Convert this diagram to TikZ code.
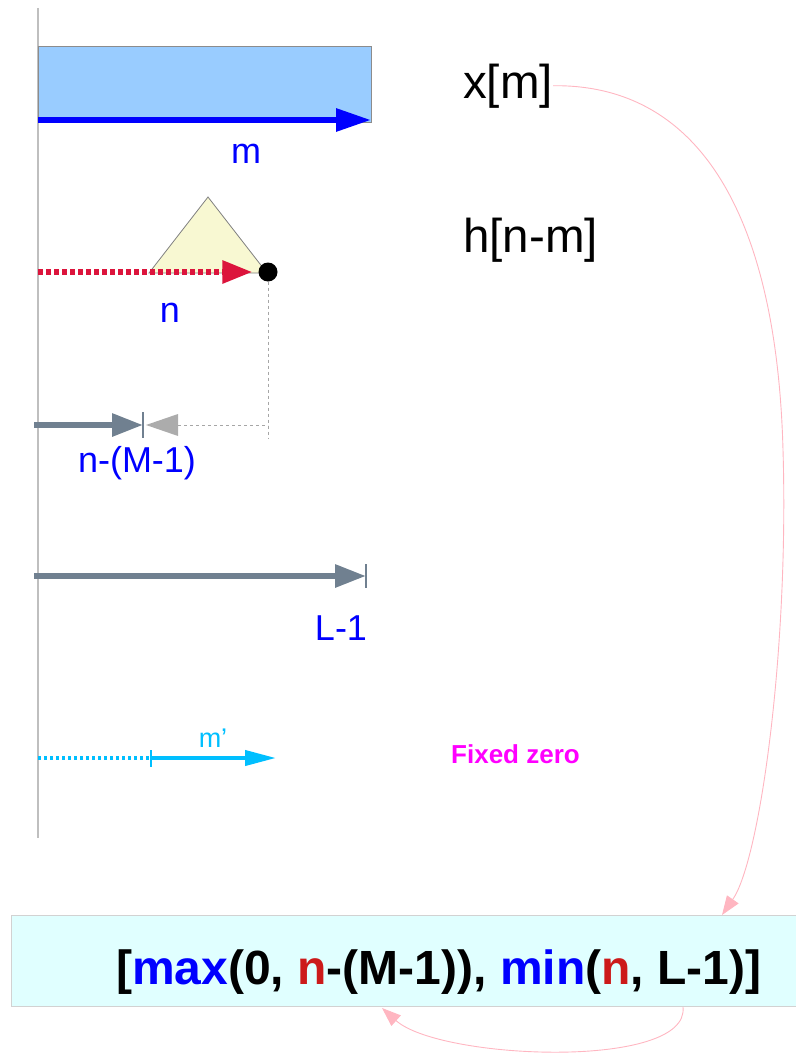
\documentclass[tikz,border=0pt]{standalone}
\usepackage{fontspec}
\setmainfont{Liberation Sans}
\usetikzlibrary{arrows.meta}
\definecolor{rectblue}{HTML}{99CCFF}
\definecolor{triyel}{HTML}{F8F8D2}
\definecolor{crim}{HTML}{DC143C}
\definecolor{slate}{HTML}{708090}
\definecolor{skyc}{HTML}{00BFFF}
\definecolor{pinkc}{HTML}{FFB6C1}
\definecolor{boxcyan}{HTML}{E0FFFF}
\definecolor{fred}{HTML}{CC1A1A}
\definecolor{magc}{HTML}{FF00FF}
\begin{document}
\begin{tikzpicture}[x=1pt,y=-1pt,
  lbl/.style={text=blue,font=\fontsize{36}{40}\selectfont,inner sep=0pt,anchor=base},
  bigtxt/.style={font=\fontsize{47.5}{54}\selectfont,inner sep=0pt,anchor=base west},
  slatearrow/.style={draw=slate,line width=6pt,-{Triangle[length=31pt,width=22pt]}},
  tickbar/.style={draw=slate,line width=2.5pt},
  pinkcurve/.style={draw=pinkc,line width=0.9pt,-{Triangle[length=19pt,width=14pt]}},
  guide/.style={draw=gray!70,line width=0.8pt,dash pattern=on 3pt off 3pt}]
\useasboundingbox (0,0) rectangle (795,1057);
% axis
\draw[draw=gray!50,line width=1.5pt] (38,8) -- (38,838);
% x[m] rectangle
\node[draw=gray!90,fill=rectblue,line width=0.8pt,minimum width=333pt,minimum height=76pt,inner sep=0pt] (xrect) at (204.5,84) {};
\coordinate (ms) at (38,120);
\coordinate (me) at (371,120);
\draw[draw=blue,line width=6pt,-{Triangle[length=35pt,width=22pt]}] (ms) -- (me);
\node[lbl] (mlab) at (246,163) {m};
% triangle
\coordinate (ta) at (149,273);
\coordinate (tb) at (208,197);
\coordinate (tc) at (267,273);
\draw[draw=gray,fill=triyel,line width=0.8pt] (ta) -- (tb) -- (tc) -- cycle;
\coordinate (ns) at (38,272);
\node[circle,fill=black,minimum size=19pt,inner sep=0pt] (dot) at (268,272) {};
\draw[draw=crim,line width=6pt,dash pattern=on 4.5pt off 3.5pt,-{Triangle[length=30pt,width=22pt]}] (ns) -- ([xshift=-6pt]dot.west);
\node[lbl] (nlab) at (170,322) {n};
% n-(M-1)
\coordinate (g1s) at (34,425);
\coordinate (g1e) at (143,425);
\coordinate (gd) at (268,438);
\draw[guide] (dot.south) -- (gd);
\draw[guide] (178,425) -- (268,425);
\draw[slatearrow] (g1s) -- (g1e);
\draw[tickbar] (143,412) -- (143,438);
\fill[gray!65] (146,425) -- (178,414) -- (178,436) -- cycle;
\node[lbl] (nmlab) at (137,472) {n-(M-1)};
% L-1
\coordinate (ls) at (34,576);
\coordinate (le) at (366,576);
\draw[slatearrow] (ls) -- (le);
\draw[tickbar] (366,564) -- (366,588);
\node[lbl] (llab) at (341,640) {L-1};
% m'
\coordinate (cs) at (38,758);
\coordinate (cm) at (151,758);
\coordinate (ce) at (276,758);
\draw[draw=skyc,line width=3.5pt,dash pattern=on 3pt off 3pt] (cs) -- (cm);
\draw[draw=skyc,line width=1.5pt] (151,750) -- (151,767);
\draw[draw=skyc,line width=4pt,-{Triangle[length=31pt,width=15pt]}] (cm) -- (ce);
\node[text=skyc,font=\fontsize{27}{30}\selectfont,inner sep=0pt,anchor=base] (mplab) at (213,747) {m’};
\node[text=magc,font=\bfseries\fontsize{26}{30}\selectfont,inner sep=0pt,anchor=base west] (fz) at (451,763) {Fixed zero};
% right texts
\node[bigtxt] (xm) at (463,98) {x[m]};
\node[bigtxt] (hnm) at (463,252) {h[n-m]};
% bottom box
\node[draw=gray!35,fill=boxcyan,line width=0.8pt,minimum width=788pt,minimum height=91pt,inner sep=0pt] (box) at (405,960.5) {};
\node[font=\bfseries\fontsize{48}{54}\selectfont,inner sep=0pt,anchor=base west] (formula) at (116,984)
  {[\textcolor{blue}{max}(0, \textcolor{fred}{n}-(M-1)), \textcolor{blue}{min}(\textcolor{fred}{n}, L-1)]};
% curves
\coordinate (c1end) at (722,915);
\coordinate (c2start) at (683,1007);
\coordinate (c2end) at (382,1008);
\draw[pinkcurve] (xm.east) .. controls (705,84) and (777,225) .. (783,450)
   .. controls (789,650) and (760,860) .. (c1end);
\draw[pinkcurve] (c2start) .. controls (690,1070) and (440,1060) .. (c2end);
\end{tikzpicture}
\end{document}
